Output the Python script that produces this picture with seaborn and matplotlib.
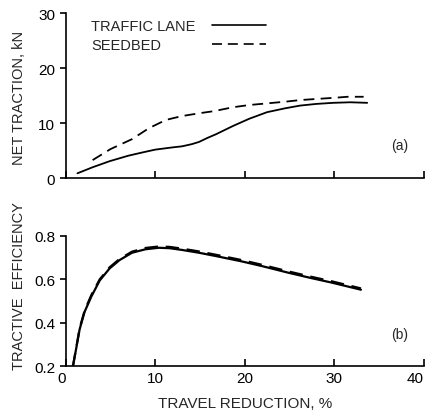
import matplotlib
matplotlib.use("Agg")
import matplotlib.pyplot as plt
import seaborn as sns
import pandas as pd
from matplotlib.lines import Line2D

sns.set_theme(style="ticks")
plt.rcParams['font.family'] = ['Liberation Sans', 'DejaVu Sans']

# (a) net traction, kN
traffic_x = [1.3, 3.0, 4.9, 7.0, 8.6, 10.0, 11.9, 13.0, 14.1, 14.9, 15.8, 16.8, 18.7, 20.5, 22.5, 24.5, 26.2, 28.0, 29.9, 31.8, 33.7]
traffic_y = [0.9, 2.0, 3.1, 4.1, 4.7, 5.2, 5.6, 5.8, 6.2, 6.6, 7.3, 8.0, 9.5, 10.8, 12.0, 12.7, 13.2, 13.5, 13.7, 13.8, 13.7]
seedbed_x = [3.0, 5.0, 7.4, 9.3, 11.2, 13.0, 14.9, 16.6, 18.7, 20.5, 22.5, 24.5, 26.2, 28.0, 29.9, 31.5, 33.3]
seedbed_y = [3.3, 5.3, 7.1, 9.1, 10.6, 11.3, 11.8, 12.2, 12.9, 13.3, 13.6, 13.9, 14.2, 14.4, 14.6, 14.8, 14.8]

# (b) tractive efficiency
eff_x = [0.8, 1.2, 1.55, 2.1, 2.85, 3.8, 4.9, 6.0, 7.4, 8.9, 10.4, 11.6, 13.0, 14.9, 17.0, 19.7, 22.0, 24.9, 27.5, 29.7, 33.0]
eff_traffic = [0.20, 0.29, 0.37, 0.45, 0.52, 0.595, 0.65, 0.688, 0.722, 0.738, 0.745, 0.743, 0.735, 0.722, 0.705, 0.682, 0.66, 0.63, 0.605, 0.585, 0.552]
eff_seedbed = [0.20, 0.293, 0.375, 0.455, 0.527, 0.60, 0.655, 0.693, 0.727, 0.744, 0.751, 0.749, 0.741, 0.728, 0.711, 0.688, 0.666, 0.636, 0.611, 0.591, 0.558]

x_ticks = [0, 10, 20, 30, 40]
x_ticklabels = ["0", "10", "20", "30", "40"]

fig = plt.figure(figsize=(4.30, 4.14), dpi=100)
ax1 = fig.add_axes([0.153, 0.567, 0.832, 0.399])
ax2 = fig.add_axes([0.153, 0.113, 0.832, 0.315])

df_a = pd.concat([
    pd.DataFrame({"x": traffic_x, "y": traffic_y, "s": "TRAFFIC LANE"}),
    pd.DataFrame({"x": seedbed_x, "y": seedbed_y, "s": "SEEDBED"}),
])
df_b = pd.concat([
    pd.DataFrame({"x": eff_x, "y": eff_traffic, "s": "TRAFFIC LANE"}),
    pd.DataFrame({"x": eff_x, "y": eff_seedbed, "s": "SEEDBED"}),
])

dash_map = {"TRAFFIC LANE": "", "SEEDBED": (6, 3.5)}
pal = {"TRAFFIC LANE": "black", "SEEDBED": "black"}

sns.lineplot(data=df_a, x="x", y="y", hue="s", style="s", dashes=dash_map,
             palette=pal, linewidth=1.3, ax=ax1, legend=False, sort=False)
sns.lineplot(data=df_b, x="x", y="y", hue="s", style="s", dashes=dash_map,
             palette=pal, linewidth=1.6, ax=ax2, legend=False, sort=False)

for ax in (ax1, ax2):
    ax.set_xlim(0, 40)
    ax.set_xticks(x_ticks)
    sns.despine(ax=ax)
    for sp in ("left", "bottom"):
        ax.spines[sp].set_linewidth(1.2)
        ax.spines[sp].set_color("black")
    ax.tick_params(axis="y", direction="out", length=4, width=1.2, labelsize=11, colors="black")
    ax.tick_params(axis="x", direction="in", length=5, width=1.2, labelsize=11, colors="black")
    ax.set_facecolor("white")

ax1.set_ylim(0, 30)
ax1.set_yticks([0, 10, 20, 30])
ax1.set_xticklabels([])
ax1.set_xlabel("")
ax1.set_ylabel("NET TRACTION, kN", fontsize=10.5)
ax1.yaxis.set_label_coords(-0.112, 0.49)
ax1.text(0.932, 0.2, "(a)", transform=ax1.transAxes, fontsize=10, ha="center", va="center")

ax2.set_ylim(0.2, 0.8)
ax2.set_yticks([0.2, 0.4, 0.6, 0.8])
ax2.set_yticklabels(["0.2", "0.4", "0.6", "0.8"])
ax2.set_xticklabels(x_ticklabels)
ax2.set_xlabel("TRAVEL REDUCTION, %", fontsize=11, labelpad=8)
ax2.set_ylabel("TRACTIVE  EFFICIENCY", fontsize=10.5)
ax2.yaxis.set_label_coords(-0.112, 0.62)
ax2.text(0.932, 0.25, "(b)", transform=ax2.transAxes, fontsize=10, ha="center", va="center")
# keep the last tick label inside the canvas
labs = ax2.get_xticklabels()
labs[-1].set_horizontalalignment("right")
labs[0].set_horizontalalignment("right")

# legend (manual, left-aligned text with sample lines on the right)
W, H = 430, 414
fig.text(91 / W, 1 - 27 / H, "TRAFFIC LANE", fontsize=10.5, ha="left", va="center")
fig.text(91 / W, 1 - 46 / H, "SEEDBED", fontsize=10.5, ha="left", va="center")
fig.add_artist(Line2D([212 / W, 266 / W], [1 - 26 / H, 1 - 26 / H], color="black", lw=1.2,
                      transform=fig.transFigure))
fig.add_artist(Line2D([212 / W, 266 / W], [1 - 45 / H, 1 - 45 / H], color="black", lw=1.2,
                      dashes=(6, 3.5), transform=fig.transFigure))

fig.savefig("out.png", dpi=100, facecolor="white")
